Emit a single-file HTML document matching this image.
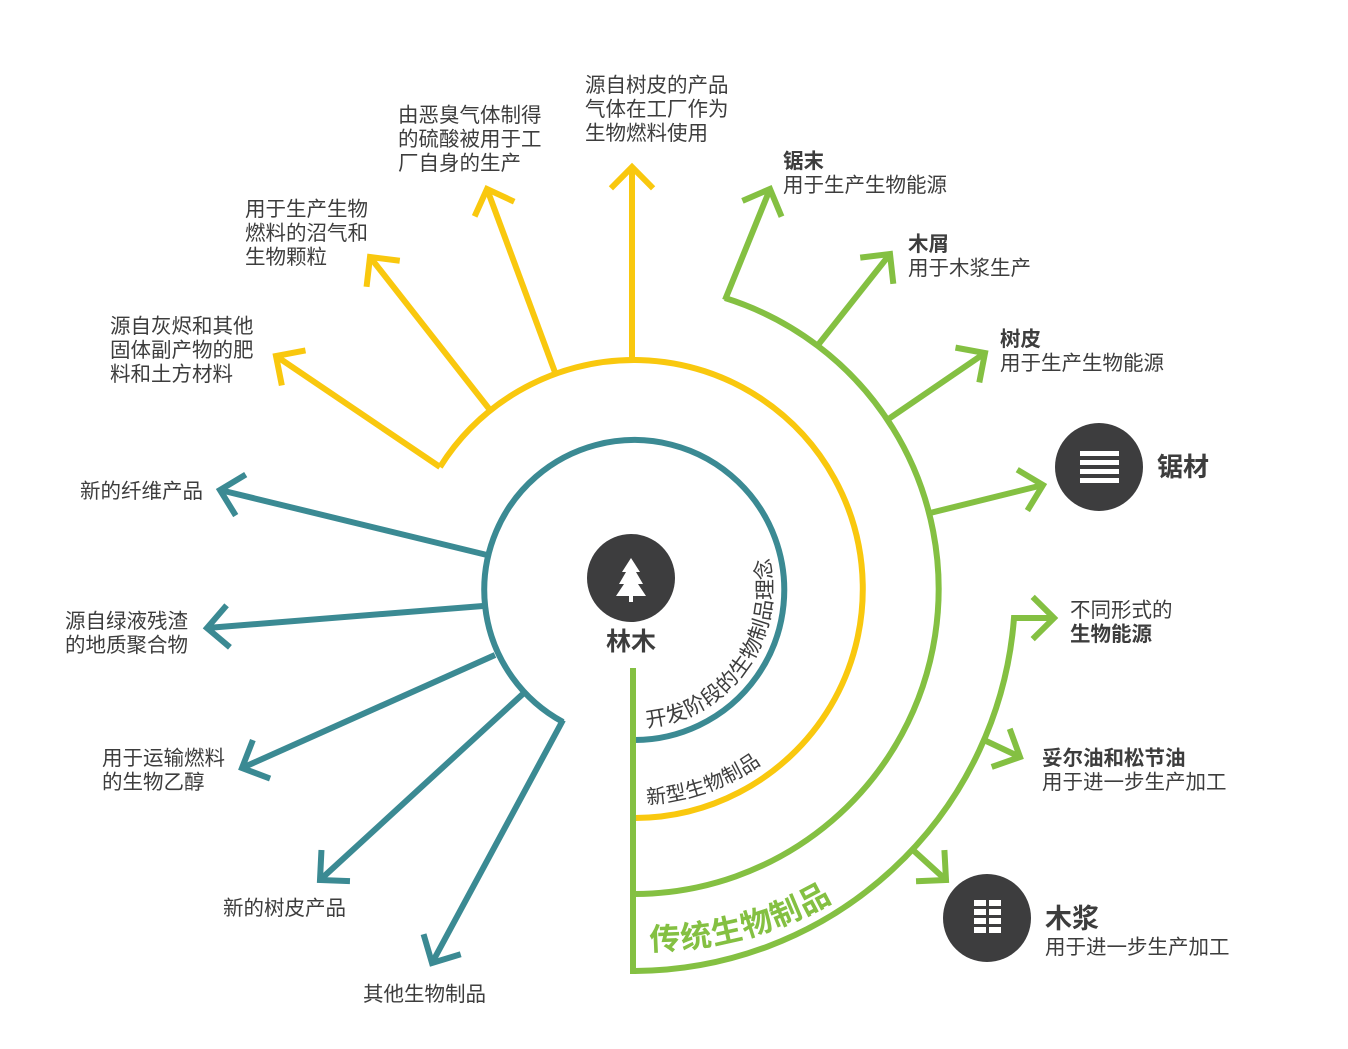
<!DOCTYPE html>
<html><head><meta charset="utf-8"><style>
html,body{margin:0;padding:0;background:#fff;}
svg{display:block}
text{font-family:"Liberation Sans","Noto Sans CJK SC",sans-serif;fill:#3d3d3d;}
.t{font-size:20.5px}
.b{font-size:20.5px;font-weight:bold}
</style></head><body>
<svg id="s" width="1348" height="1049" viewBox="0 0 1348 1049" xmlns="http://www.w3.org/2000/svg">
<defs>
<path id="p1" d="M 647 727 A 138 138 0 0 0 771 570 A 138 138 0 0 0 740 500"/>
<path id="p2" d="M 647 804 A 215 215 0 0 0 820 700"/>
<path id="p3" d="M 650 950 A 360 360 0 0 0 900 850"/>
</defs>
<g fill="none" stroke-width="6" stroke-linejoin="miter" stroke-linecap="butt">
<path d="M 633 740 A 150 150 0 1 0 563 722" stroke="#3b8a93"/>
<path d="M 633 818 A 229 229 0 1 0 440 467" stroke="#f9c80e"/>
<path d="M 633 894 A 305 305 0 0 0 725 298" stroke="#84c042"/>
<path d="M 633 971 A 382 382 0 0 0 1014 618 L 1052 618" stroke="#84c042"/>
<line x1="633" y1="668" x2="633" y2="974" stroke="#84c042"/>
</g>
<g id="arrows" fill="none" stroke-width="6"></g>
<text font-size="21" letter-spacing="0.5"><textPath href="#p1">开发阶段的生物制品理念</textPath></text>
<text font-size="20" letter-spacing="0.5"><textPath href="#p2">新型生物制品</textPath></text>
<text font-size="31" font-weight="bold" letter-spacing="1" style="fill:#84c042"><textPath href="#p3">传统生物制品</textPath></text>

<circle cx="631" cy="578" r="44" fill="#3d3d3e"/>
<path d="M631 558 L622 572 L626 572 L619 584 L624 584 L616 596 L629 596 L629 602 L633 602 L633 596 L646 596 L638 584 L643 584 L636 572 L640 572 Z" fill="#fff"/>
<text x="631" y="650" text-anchor="middle" font-size="25" font-weight="bold">林木</text>

<circle cx="1099" cy="467" r="44" fill="#3d3d3e"/>
<g fill="#fff"><rect x="1080" y="451" width="39" height="5"/><rect x="1080" y="460" width="39" height="5"/><rect x="1080" y="469" width="39" height="5"/><rect x="1080" y="478" width="39" height="5"/></g>
<text x="1157" y="476" font-size="26" font-weight="bold">锯材</text>

<circle cx="987" cy="918" r="44" fill="#3d3d3e"/>
<g fill="#fff">
<rect x="974" y="900" width="12" height="6"/><rect x="989" y="900" width="12" height="6"/>
<rect x="974" y="909" width="12" height="6"/><rect x="989" y="909" width="12" height="6"/>
<rect x="974" y="918" width="12" height="6"/><rect x="989" y="918" width="12" height="6"/>
<rect x="974" y="927" width="12" height="6"/><rect x="989" y="927" width="12" height="6"/>
</g>
<text x="1045" y="928" font-size="27" font-weight="bold">木浆</text>
<text class="t" x="1045" y="954">用于进一步生产加工</text>

<g>
<text class="t" x="585" y="92">源自树皮的产品</text>
<text class="t" x="585" y="116">气体在工厂作为</text>
<text class="t" x="585" y="140">生物燃料使用</text>
<text class="t" x="398" y="122">由恶臭气体制得</text>
<text class="t" x="398" y="146">的硫酸被用于工</text>
<text class="t" x="398" y="170">厂自身的生产</text>
<text class="t" x="245" y="216">用于生产生物</text>
<text class="t" x="245" y="240">燃料的沼气和</text>
<text class="t" x="245" y="264">生物颗粒</text>
<text class="t" x="110" y="333">源自灰烬和其他</text>
<text class="t" x="110" y="357">固体副产物的肥</text>
<text class="t" x="110" y="381">料和土方材料</text>
<text class="t" x="80" y="498">新的纤维产品</text>
<text class="t" x="65" y="628">源自绿液残渣</text>
<text class="t" x="65" y="652">的地质聚合物</text>
<text class="t" x="102" y="765">用于运输燃料</text>
<text class="t" x="102" y="789">的生物乙醇</text>
<text class="t" x="223" y="915">新的树皮产品</text>
<text class="t" x="363" y="1001">其他生物制品</text>
<text class="b" x="783" y="168">锯末</text>
<text class="t" x="783" y="192">用于生产生物能源</text>
<text class="b" x="908" y="251">木屑</text>
<text class="t" x="908" y="275">用于木浆生产</text>
<text class="b" x="1000" y="346">树皮</text>
<text class="t" x="1000" y="370">用于生产生物能源</text>
<text class="t" x="1070" y="617">不同形式的</text>
<text class="b" x="1070" y="641">生物能源</text>
<text class="b" x="1042" y="765">妥尔油和松节油</text>
<text class="t" x="1042" y="789">用于进一步生产加工</text>
</g>
</svg>
<script>
var g=document.getElementById('arrows');
var T='#3b8a93',Y='#f9c80e',G='#84c042';
var A=[
[T,487,555,220,490],[T,483,606,207,628],[T,495,655,242,768],[T,525,692,320,880],[T,563,720,432,963],
[Y,440,467,276,356],[Y,490,410,370,257],[Y,556,375,487,189],[Y,632,361,632,167],
[G,725,300,770,189],[G,818,345,890,254],[G,887,420,985,353],[G,930,513,1043,485],
[G,984,740,1020,757],[G,913,850,946,880],[G,null,null,1054,618,1014,618]
];
function mk(c,d){var p=document.createElementNS('http://www.w3.org/2000/svg','path');p.setAttribute('d',d);p.setAttribute('stroke',c);g.appendChild(p);}
A.forEach(function(a){
 var c=a[0],x1=a[1],y1=a[2],x2=a[3],y2=a[4];
 if(x1===null){x1=a[5];y1=a[6];} else mk(c,'M'+x1+' '+y1+' L'+x2+' '+y2);
 var ang=Math.atan2(y2-y1,x2-x1),L=30,s=0.78;
 var ax=x2-L*Math.cos(ang-s),ay=y2-L*Math.sin(ang-s),bx=x2-L*Math.cos(ang+s),by=y2-L*Math.sin(ang+s);
 mk(c,'M'+ax+' '+ay+' L'+x2+' '+y2+' L'+bx+' '+by);
});
</script>
</body></html>
